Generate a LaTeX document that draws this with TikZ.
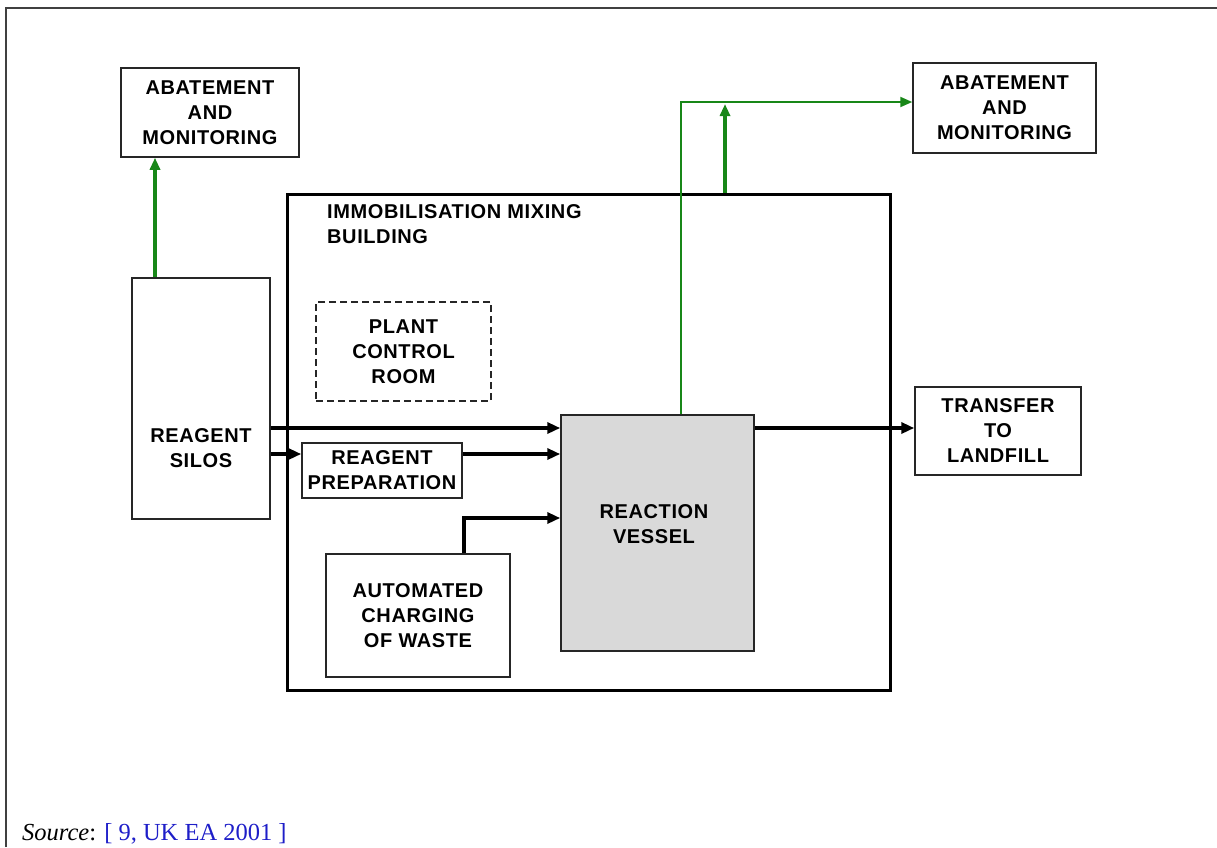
\documentclass[tikz,border=0pt]{standalone}
\usepackage{fontspec}
\setmainfont{Liberation Sans}
\newfontfamily\boxfont[LetterSpace=3]{Liberation Sans}
\newfontfamily\srcfont{Liberation Serif}
\usetikzlibrary{arrows.meta,calc}
\definecolor{grn}{RGB}{24,135,24}
\definecolor{vgray}{RGB}{217,217,217}
\definecolor{srcblue}{RGB}{30,30,200}
\begin{document}
\begin{tikzpicture}[x=1pt,y=-1pt,
  box/.style={draw=black!85,line width=1.5pt,rectangle,inner sep=0pt,align=center,
    font=\boxfont\fontsize{20}{25}\selectfont\bfseries},
  lbl/.style={inner sep=0pt,align=center,font=\boxfont\fontsize{20}{25}\selectfont\bfseries},
  flow/.style={line width=4pt,-{Triangle[length=13pt,width=11pt]}},
  gthick/.style={draw=grn,line width=3.2pt,-{Triangle[length=12pt,width=10pt]}},
  gthin/.style={draw=grn,line width=2pt,-{Triangle[length=12pt,width=10pt]}},
  ]
\useasboundingbox (0,0) rectangle (1217,847);
% page frame
\draw[line width=1.8pt,black!75] (6,847) -- (6,8) -- (1217,8);

% building
\node[draw=black,line width=3pt,minimum width=603pt,minimum height=496pt,inner sep=0pt] (bldg) at (588.5,442) {};
\node[lbl,align=left,anchor=north west] (bldgt) at (327,204) {IMMOBILISATION MIXING\\BUILDING};

% boxes
\node[box,minimum width=178pt,minimum height=89pt] (abL) at (210,112.5) {ABATEMENT\\AND\\MONITORING};
\node[box,minimum width=183pt,minimum height=90pt] (abR) at (1004.5,108) {ABATEMENT\\AND\\MONITORING};
\node[box,minimum width=138pt,minimum height=241pt] (silos) at (201,398.5) {};
\node[lbl] (silost) at (201,448) {REAGENT\\SILOS};
\node[box,dashed,dash pattern=on 7pt off 4pt,line width=2.2pt,minimum width=175pt,minimum height=99pt] (pcr) at (403.5,351.5) {PLANT\\CONTROL\\ROOM};
\node[box,minimum width=160pt,minimum height=55pt] (prep) at (382,470.5) {REAGENT\\PREPARATION};
\node[box,minimum width=184pt,minimum height=123pt] (charge) at (418,615.5) {AUTOMATED\\CHARGING\\OF WASTE};
\node[box,fill=vgray,minimum width=193pt,minimum height=236pt] (vessel) at (657.5,533) {};
\node[lbl] (vesselt) at (654,524) {REACTION\\VESSEL};
\node[box,minimum width=166pt,minimum height=88pt] (land) at (998,431) {TRANSFER\\TO\\LANDFILL};

% helper coordinates
\coordinate (ya) at (0,428);
\coordinate (yb) at (0,454);
\coordinate (yc) at (0,518);
\coordinate (xc) at (464,0);
\coordinate (xg) at (681,0);
\coordinate (yg) at (0,102);
\coordinate (xh) at (725,0);
\coordinate (xs) at (155,0);
\coordinate (gtop) at (725,104);

% black flows
\draw[flow] (silos.east |- ya) -- (vessel.west |- ya);
\draw[flow] (silos.east |- yb) -- (prep.west |- yb);
\draw[flow] (prep.east |- yb) -- (vessel.west |- yb);
\draw[flow] (charge.north -| xc) |- (vessel.west |- yc);
\draw[flow] (vessel.east |- ya) -- (land.west |- ya);

% green flows
\draw[gthick] (silos.north -| xs) -- (abL.south -| xs);
\draw[gthin] (vessel.north -| xg) |- (abR.west |- yg);
\draw[gthick] (bldg.north -| xh) -- (gtop);

% source
\node[anchor=base west,inner sep=0pt,font=\srcfont\fontsize{24.5}{28}\selectfont] (src) at (22,840)
  {\textit{Source}: \textcolor{srcblue}{[ 9, UK EA 2001 ]}};
\end{tikzpicture}
\end{document}
